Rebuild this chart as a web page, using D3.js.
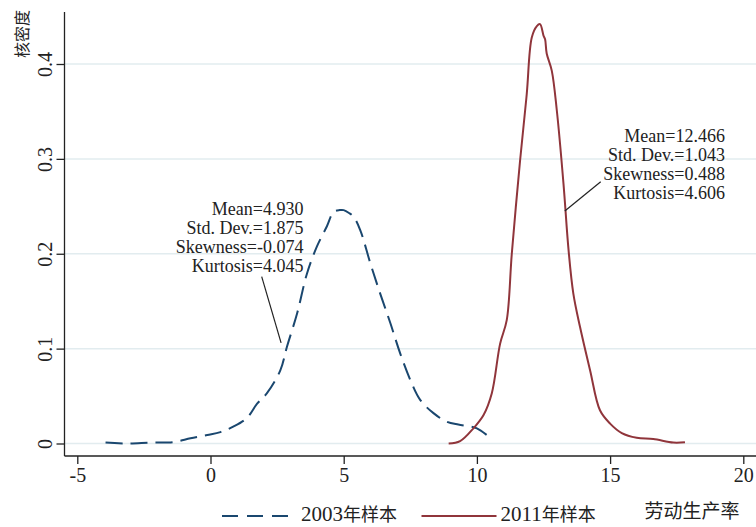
<!DOCTYPE html>
<html>
<head>
<meta charset="utf-8">
<script src="https://cdn.jsdelivr.net/npm/d3@7"></script>
<style>
  body { margin: 0; background: #fff; }
  svg text { font-family: "Liberation Serif", "Times New Roman", serif; fill: #222; }
  .cjk { font-family: "Noto Sans CJK SC", sans-serif; }
</style>
</head>
<body>
<div id="chart"></div>
<script>
// density estimates
var x2003 = [-3.94, -3.12, -2.25, -1.37, -0.75, -0.12, 0.37, 0.87, 1.37, 1.75, 2.12, 2.62, 2.87, 3.25, 3.62, 4.0, 4.37, 4.62, 4.85, 5.0, 5.2, 5.37, 5.62, 6.0, 6.37, 6.75, 7.12, 7.5, 7.87, 8.37, 8.87, 9.3, 9.75, 10.0, 10.37];
var y2003 = [0.001, 0.0, 0.001, 0.0016, 0.0055, 0.009, 0.012, 0.018, 0.027, 0.042, 0.053, 0.077, 0.102, 0.137, 0.179, 0.208, 0.229, 0.244, 0.246, 0.246, 0.243, 0.239, 0.225, 0.190, 0.158, 0.127, 0.095, 0.067, 0.046, 0.032, 0.023, 0.020, 0.018, 0.016, 0.009];

var x2011 = [8.94, 9.37, 9.87, 10.25, 10.56, 10.87, 11.12, 11.31, 11.62, 11.87, 12.06, 12.25, 12.37, 12.5, 12.56, 12.62, 12.81, 13.0, 13.25, 13.44, 13.62, 13.87, 14.25, 14.62, 15.0, 15.44, 16.0, 16.62, 17.37, 17.81];
var y2011 = [0.0, 0.0025, 0.016, 0.030, 0.053, 0.105, 0.130, 0.200, 0.298, 0.368, 0.428, 0.440, 0.442, 0.430, 0.426, 0.411, 0.393, 0.351, 0.274, 0.204, 0.158, 0.123, 0.077, 0.035, 0.021, 0.011, 0.006, 0.0047, 0.001, 0.0013];

var xTicks = [-5, 0, 5, 10, 15, 20];
var yTicks = [0, 0.1, 0.2, 0.3, 0.4];
var seriesNames = ["2003年样本", "2011年样本"];
var stats2003 = ["Mean=4.930", "Std. Dev.=1.875", "Skewness=-0.074", "Kurtosis=4.045"];
var stats2011 = ["Mean=12.466", "Std. Dev.=1.043", "Skewness=0.488", "Kurtosis=4.606"];
var xTitle = "劳动生产率";
var yTitle = "核密度";

var W = 756, H = 527;
var blue = "#1a476f", red = "#90353b", grid = "#e2ecef";
var dash = "17,8";

var svg = d3.select("#chart").append("svg")
    .attr("width", W)
    .attr("height", H);

var x = d3.scaleLinear().domain([-5, 20]).range([77.3, 743.3]);
var y = d3.scaleLinear().domain([0, 0.4]).range([443.5, 64]);

// gridlines
svg.selectAll(".grid")
    .data(yTicks)
    .enter()
    .append("line")
    .attr("x1", 65)
    .attr("x2", W)
    .attr("y1", function(d) { return y(d); })
    .attr("y2", function(d) { return y(d); })
    .attr("stroke", grid)
    .attr("stroke-width", 1.5);

// X axis
var xAxis = svg.append("g")
    .attr("transform", "translate(0,456)")
    .call(d3.axisBottom(x).tickValues(xTicks).tickSize(8).tickPadding(4).tickFormat(function(d) { return String(d); }));
xAxis.select(".domain").attr("d", "M64.5,0H" + (W + 10)).attr("stroke", "#222").attr("stroke-width", 1.3);
xAxis.selectAll(".tick line").attr("stroke", "#222").attr("stroke-width", 1.3);
xAxis.selectAll(".tick text").style("font-size", "20px").style("font-family", "Liberation Serif").attr("fill", "#222");

// Y axis
var yAxis = svg.append("g")
    .attr("transform", "translate(64.5,0)")
    .call(d3.axisLeft(y).tickValues(yTicks).tickSize(8).tickFormat(function(d) { return d === 0 ? "0" : d3.format(".1f")(d); }));
yAxis.select(".domain").attr("d", "M0,12V456").attr("stroke", "#222").attr("stroke-width", 1.3);
yAxis.selectAll(".tick line").attr("stroke", "#222").attr("stroke-width", 1.3);
yAxis.selectAll(".tick text")
    .style("font-size", "20px")
    .style("font-family", "Liberation Serif")
    .attr("fill", "#222")
    .attr("x", 0)
    .attr("dy", 0)
    .attr("text-anchor", "middle")
    .attr("transform", "translate(-13,0) rotate(-90)");

// axis titles
svg.append("text")
    .attr("class", "cjk")
    .attr("text-anchor", "end")
    .attr("transform", "translate(28,10) rotate(-90)")
    .style("font-size", "16px")
    .text(yTitle);

svg.append("text")
    .attr("class", "cjk")
    .attr("x", 692)
    .attr("y", 518)
    .attr("text-anchor", "middle")
    .style("font-size", "19px")
    .text(xTitle);

// curves
var line = d3.line()
    .x(function(d) { return x(d[0]); })
    .y(function(d) { return y(d[1]); })
    .curve(d3.curveCatmullRom.alpha(0.5));

svg.append("path")
    .datum(d3.zip(x2003, y2003))
    .attr("d", line)
    .attr("fill", "none")
    .attr("stroke", blue)
    .attr("stroke-width", 2)
    .attr("stroke-dasharray", dash);

svg.append("path")
    .datum(d3.zip(x2011, y2011))
    .attr("d", line)
    .attr("fill", "none")
    .attr("stroke", red)
    .attr("stroke-width", 2);

// annotations
function annotate(lines, right, top) {
    svg.append("g")
        .selectAll("text")
        .data(lines)
        .enter()
        .append("text")
        .attr("x", right)
        .attr("y", function(d, i) { return top + i * 19; })
        .attr("text-anchor", "end")
        .style("font-size", "18px")
        .text(function(d) { return d; });
}
annotate(stats2003, 303.5, 215);
annotate(stats2011, 725, 141.5);

svg.append("line")
    .attr("x1", 261.7).attr("y1", 276.7)
    .attr("x2", x(2.65)).attr("y2", y(0.106))
    .attr("stroke", "#222").attr("stroke-width", 1.2);
svg.append("line")
    .attr("x1", 600.7).attr("y1", 181.7)
    .attr("x2", x(13.3)).attr("y2", y(0.245))
    .attr("stroke", "#222").attr("stroke-width", 1.2);

// legend
var legend = svg.append("g");
var legendItems = [
    { name: seriesNames[0], color: blue, dash: "16,9", x0: 222 },
    { name: seriesNames[1], color: red, dash: null, x0: 421.5 }
];
legendItems.forEach(function(d) {
    legend.append("line")
        .attr("x1", d.x0).attr("x2", d.x0 + 75)
        .attr("y1", 516).attr("y2", 516)
        .attr("stroke", d.color)
        .attr("stroke-width", 2)
        .attr("stroke-dasharray", d.dash);
    var t = legend.append("text")
        .attr("x", d.x0 + 79)
        .attr("y", 521)
        .style("font-size", "21px");
    t.append("tspan").text(d.name.slice(0, 4));
    t.append("tspan").attr("class", "cjk").style("font-size", "18px").text(d.name.slice(4));
});
</script>
</body>
</html>
